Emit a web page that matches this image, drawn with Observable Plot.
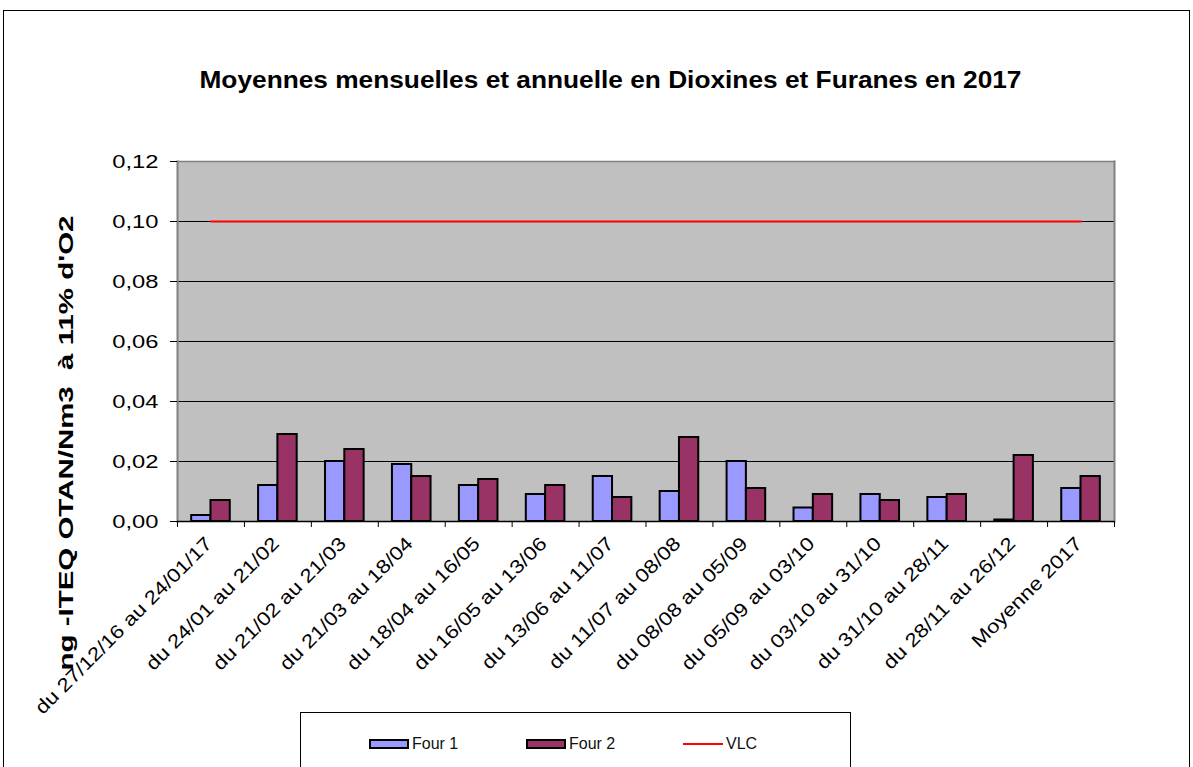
<!DOCTYPE html>
<html>
<head>
<meta charset="utf-8">
<script src="https://cdn.jsdelivr.net/npm/d3@7"></script>
<script src="https://cdn.jsdelivr.net/npm/@observablehq/plot@0.6"></script>
<style>
  html, body { margin:0; padding:0; background:#fff; width:1193px; height:767px; overflow:hidden; font-family:"Liberation Sans", Arial, sans-serif; }
  #page { position:relative; width:1193px; height:767px; }
  #outer { position:absolute; left:3px; top:10px; width:1187px; height:800px; border:1px solid #000; box-sizing:border-box; }
  #title { position:absolute; top:68px; left:14px; width:1193px; text-align:center; font-weight:bold; font-size:24px; line-height:24px; color:#000; white-space:nowrap; }
  #title span { display:inline-block; transform-origin:center; }
  #ylabel { position:absolute; left:66px; top:443px; width:0; height:0; }
  #ylabel span { position:absolute; left:0; top:0; white-space:pre; font-weight:bold; font-size:20px; line-height:20px; color:#000; }
  #chart { position:absolute; left:0; top:130px; }
  #legend { position:absolute; left:300px; top:712px; width:551px; height:80px; border:1px solid #000; box-sizing:border-box; background:#fff; }
  .sw { position:absolute; box-sizing:border-box; border:2px solid #000; width:40px; height:10px; top:26px; }
  .lt { position:absolute; top:22px; font-size:16px; line-height:18px; color:#111; }
  .ln { position:absolute; top:30px; width:40px; height:2px; background:#FF0000; }
</style>
</head>
<body>
<div id="page">
  <div id="outer"></div>
  <div id="title"><span id="titleText"></span></div>
  <div id="ylabel"><span id="ylabelText"></span></div>
  <div id="chart"></div>
  <div id="legend"></div>
</div>
<script>
const categories = [
  "du 27/12/16 au 24/01/17", "du 24/01 au 21/02", "du 21/02 au 21/03", "du 21/03 au 18/04",
  "du 18/04 au 16/05", "du 16/05 au 13/06", "du 13/06 au 11/07", "du 11/07 au 08/08",
  "du 08/08 au 05/09", "du 05/09 au 03/10", "du 03/10 au 31/10", "du 31/10 au 28/11",
  "du 28/11 au 26/12", "Moyenne 2017"
];
const four1 = [0.002, 0.012, 0.020, 0.019, 0.012, 0.009, 0.015, 0.010, 0.020, 0.0045, 0.009, 0.008, 0.0005, 0.011];
const four2 = [0.007, 0.029, 0.024, 0.015, 0.014, 0.012, 0.008, 0.028, 0.011, 0.009, 0.007, 0.009, 0.022, 0.015];
const vlc   = [0.1, 0.1, 0.1, 0.1, 0.1, 0.1, 0.1, 0.1, 0.1, 0.1, 0.1, 0.1, 0.1, 0.1];
const yTicks = [0, 0.02, 0.04, 0.06, 0.08, 0.10, 0.12];
const gridTicks = [0.02, 0.04, 0.06, 0.08, 0.10];
const seriesNames = ["Four 1", "Four 2", "VLC"];
const seriesColors = ["#9999FF", "#993366", "#FF0000"];
const titleText = "Moyennes mensuelles et annuelle en Dioxines et Furanes en 2017";
const yLabel = "ng -ITEQ OTAN/Nm3  à 11% d'O2";

const table = categories.map((c, i) => ({cat: c, four1: four1[i], four2: four2[i], vlc: vlc[i]}));

const W = 1193, H = 580, mL = 177, mR = 79, mT = 31, mB = 189;
const step = (W - mL - mR) / categories.length;
const half = step / 2;
const barW = 19.3;

const fmt = d => d3.format(".2f")(d).replace(".", ",");

const chart = Plot.plot({
  width: W, height: H,
  marginLeft: mL, marginRight: mR, marginTop: mT, marginBottom: mB,
  style: {background: "transparent", overflow: "visible", fontFamily: "'Liberation Sans', Arial, sans-serif", fontSize: "19px", color: "#000"},
  x: {domain: categories, padding: 0, round: false, label: null},
  y: {domain: [0, 0.12], label: null},
  marks: [
    Plot.frame({fill: "#C0C0C0"}),
    Plot.gridY(gridTicks, {stroke: "#000", strokeOpacity: 1, strokeWidth: 1}),
    Plot.barY(table, {x: "cat", y: "four1", fill: seriesColors[0], stroke: "#000", strokeWidth: 2, insetLeft: half - barW, insetRight: half}),
    Plot.barY(table, {x: "cat", y: "four2", fill: seriesColors[1], stroke: "#000", strokeWidth: 2, insetLeft: half, insetRight: half - barW}),
    Plot.lineY(table, {x: "cat", y: "vlc", stroke: seriesColors[2], strokeWidth: 2}),
    Plot.frame({anchor: "left", stroke: "#808080", strokeWidth: 2}),
    Plot.frame({anchor: "right", stroke: "#808080", strokeWidth: 2}),
    Plot.frame({anchor: "top", stroke: "#808080", strokeWidth: 1.5}),
    Plot.ruleY([0], {stroke: "#000", strokeWidth: 1.5}),
    Plot.ruleX(categories, {x: d => d, y1: 0, y2: 0, insetBottom: -6, dx: -half, stroke: "#000"}),
    Plot.ruleX(categories.slice(-1), {x: d => d, y1: 0, y2: 0, insetBottom: -6, dx: half, stroke: "#000"}),
    Plot.axisY({ticks: yTicks, tickFormat: fmt, tickSize: 7, tickPadding: 12, fontSize: 19, label: null}),
    Plot.axisX({tickSize: 0, tickRotate: -45, tickPadding: 19, dx: -2, fontSize: 19, label: null})
  ]
});
document.getElementById("chart").appendChild(chart);

// widen glyphs like the original rendering
function stretch(sel, f) {
  chart.querySelectorAll(sel).forEach(t => {
    const L = t.getComputedTextLength();
    t.setAttribute("textLength", (L * f).toFixed(1));
    t.setAttribute("lengthAdjust", "spacingAndGlyphs");
  });
}
stretch('[aria-label="y-axis tick label"] text', 1.25);
stretch('[aria-label="x-axis tick label"] text', 1.17);

// title width
const ts = document.getElementById("titleText");
ts.textContent = titleText;
const tw = ts.getBoundingClientRect().width;
ts.style.transform = `scaleX(${822 / tw})`;

// y label: rotated, centred at (66, 443)
const yl = document.getElementById("ylabelText");
yl.textContent = yLabel;
const yw = yl.getBoundingClientRect().width, yh = yl.getBoundingClientRect().height;
yl.style.transformOrigin = "0 0";
yl.style.transform = `rotate(-90deg) scaleX(${455 / yw}) translate(${-yw / 2}px, ${-yh / 2}px)`;

// legend
const lg = document.getElementById("legend");
const items = [
  {sw: 68, tx: 111, type: "bar"},
  {sw: 225, tx: 268, type: "bar"},
  {sw: 382, tx: 425, type: "line"}
];
items.forEach((it, i) => {
  const s = document.createElement("div");
  s.className = it.type === "bar" ? "sw" : "ln";
  s.style.background = seriesColors[i];
  s.style.left = it.sw + "px";
  lg.appendChild(s);
  const t = document.createElement("div");
  t.className = "lt";
  t.style.left = it.tx + "px";
  t.textContent = seriesNames[i];
  lg.appendChild(t);
});
</script>
</body>
</html>
